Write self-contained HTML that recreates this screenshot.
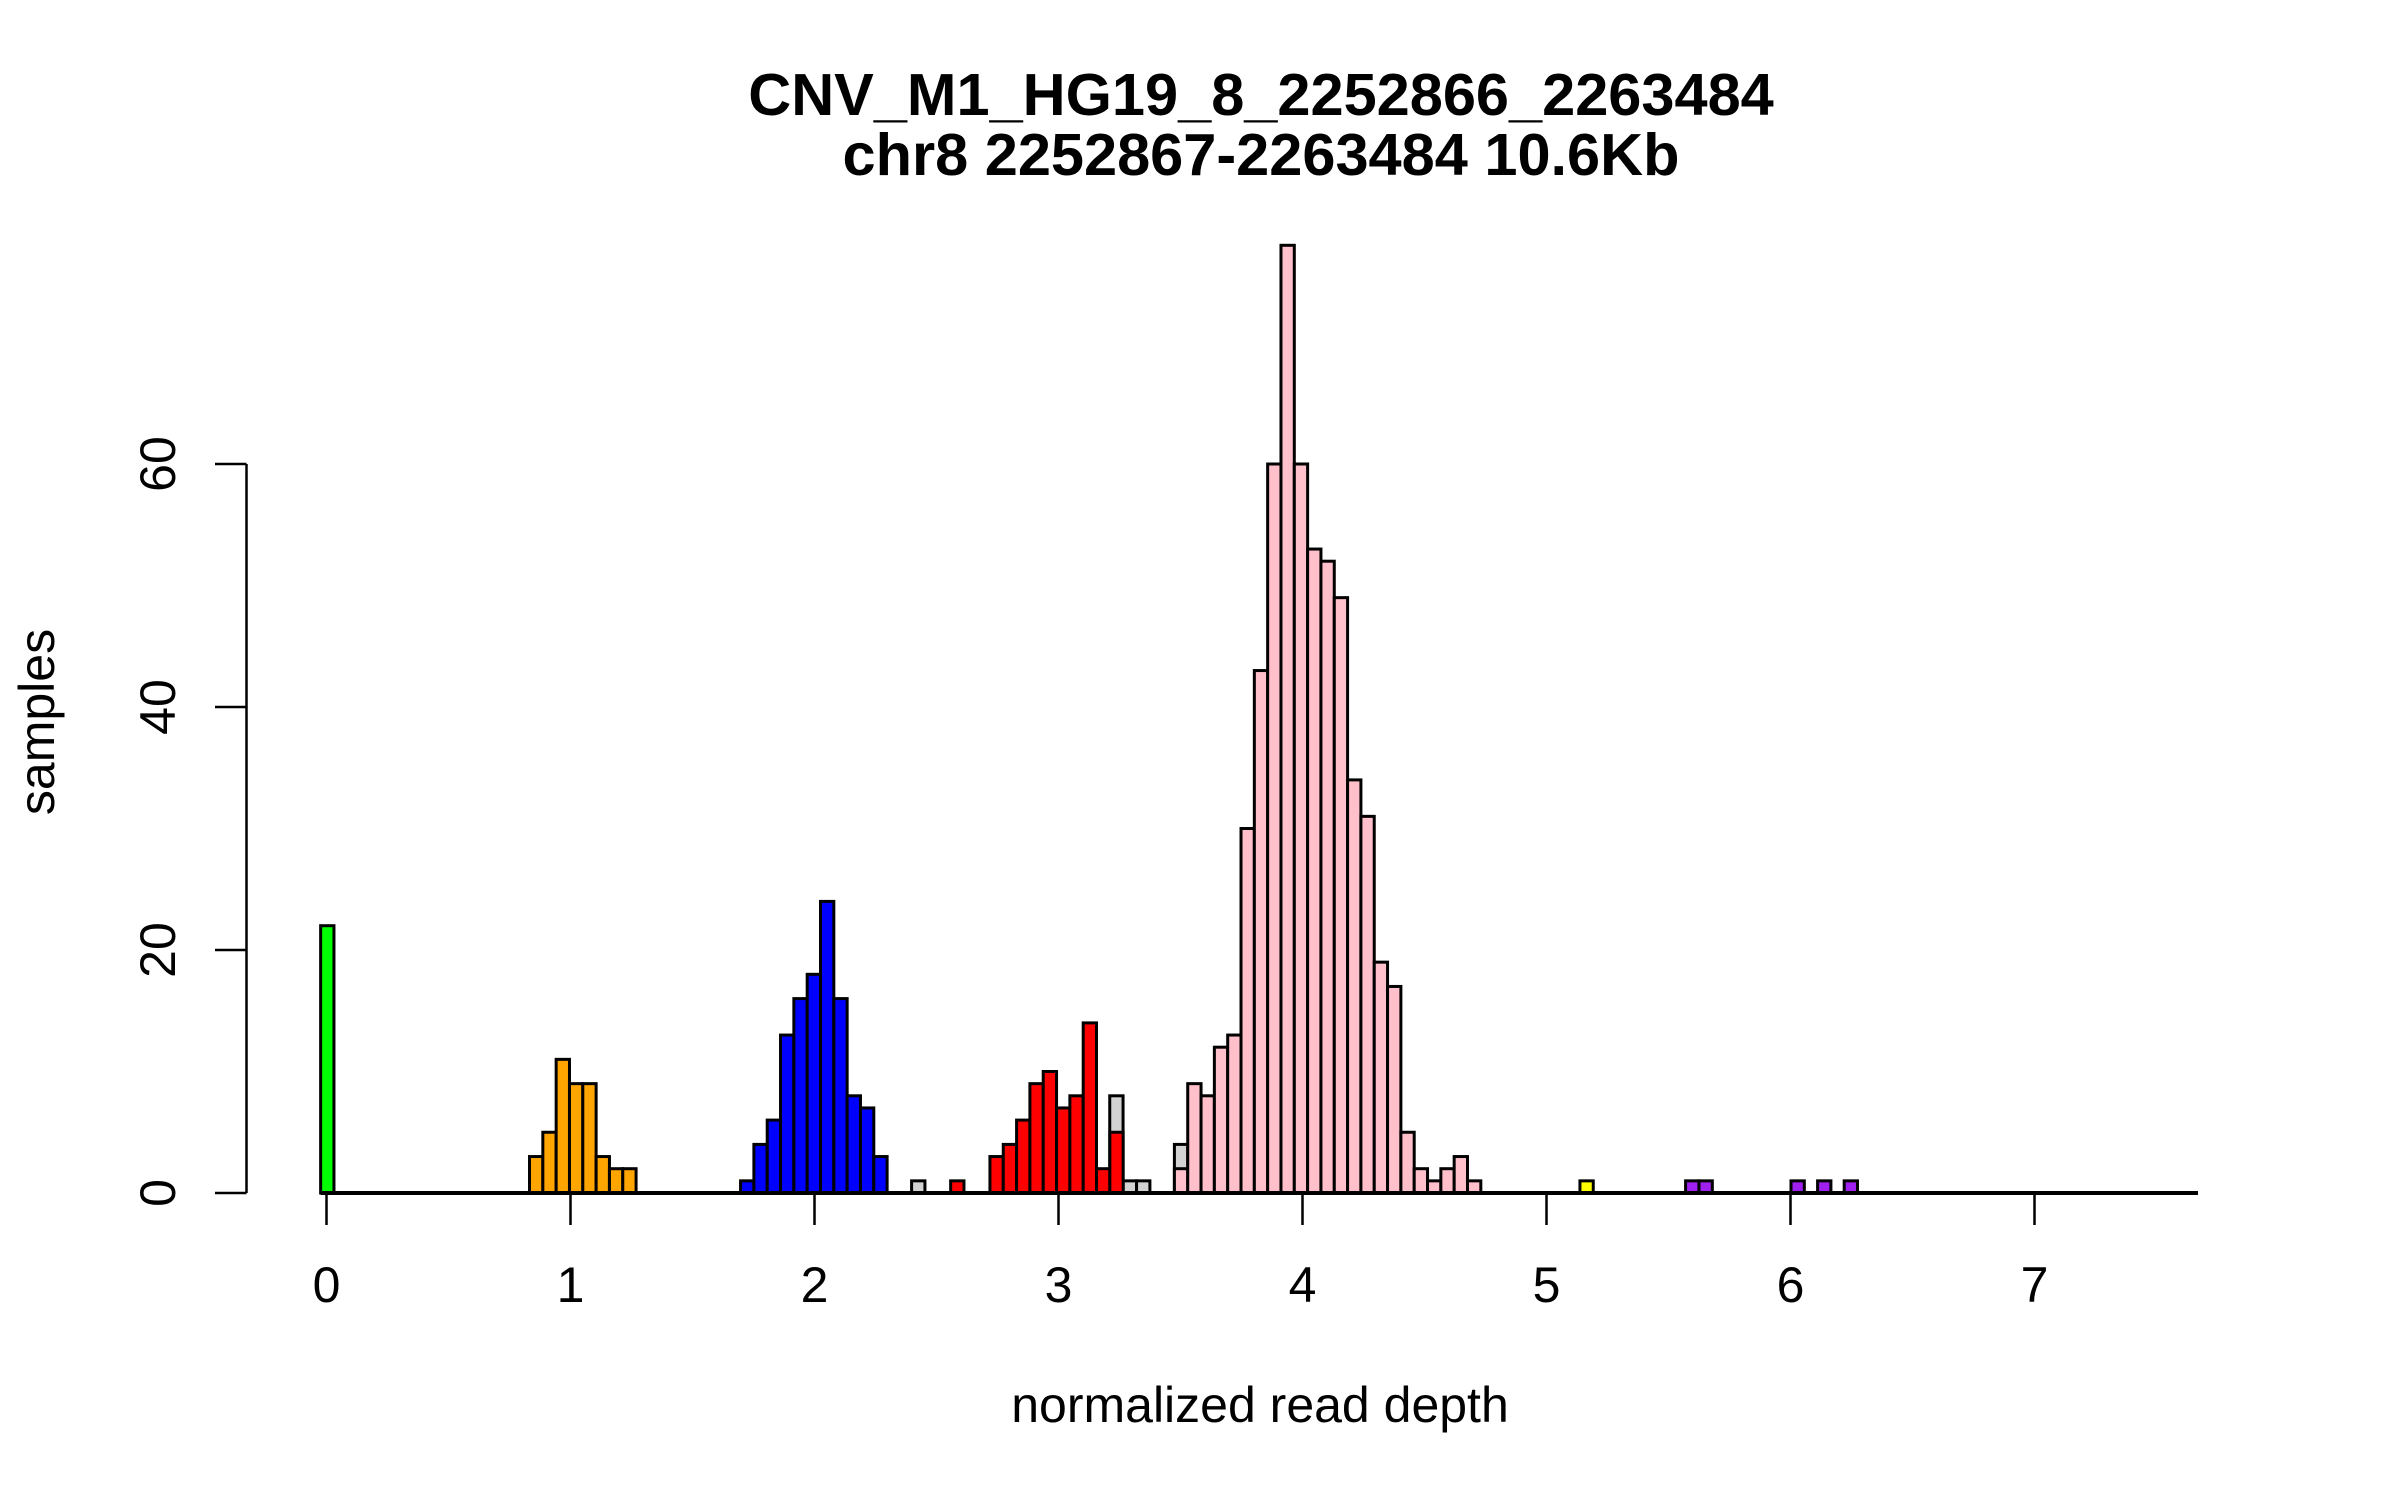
<!DOCTYPE html>
<html><head><meta charset="utf-8"><style>
html,body{margin:0;padding:0;background:#fff;}
svg{display:block;}
text{font-family:"Liberation Sans",Arial,sans-serif;fill:#000;}
</style></head>
<body>
<svg id="chart" width="2400" height="1500" viewBox="0 0 2400 1500" xmlns="http://www.w3.org/2000/svg">
<rect x="0" y="0" width="2400" height="1500" fill="#fff"/>
<text x="1261" y="115" font-size="59.5" font-weight="bold" text-anchor="middle">CNV_M1_HG19_8_2252866_2263484</text>
<text x="1261" y="175" font-size="59.5" font-weight="bold" text-anchor="middle">chr8 2252867-2263484 10.6Kb</text>
<text x="1260" y="1422" font-size="50" text-anchor="middle">normalized read depth</text>
<text x="0" y="0" font-size="50" text-anchor="middle" transform="translate(54,722) rotate(-90)">samples</text>
<g id="bars"></g>
<g id="axes"></g>
</svg>
<script>
// Series: left edge of first bin (data units) and consecutive bin counts
const binWidth = 0.0546;
const greyStarts = [2.398, 3.210, 3.265, 3.320, 3.475];
const greyCounts = [1, 8, 1, 1, 4];
const greenStart = -0.024;
const greenCounts = [22];
const orangeStart = 0.832;
const orangeCounts = [3, 5, 11, 9, 9, 3, 2, 2];
const blueStart = 1.697;
const blueCounts = [1, 4, 6, 13, 16, 18, 24, 16, 8, 7, 3];
const redSingleStart = 2.558;
const redSingleCounts = [1];
const redStart = 2.719;
const redCounts = [3, 4, 6, 9, 10, 7, 8, 14, 2, 5];
const pinkStart = 3.475;
const pinkCounts = [2, 9, 8, 12, 13, 30, 43, 60, 78, 60, 53, 52, 49, 34, 31, 19, 17, 5, 2, 1, 2, 3, 1];
const yellowStarts = [5.137];
const yellowCounts = [1];
const purpleStarts = [5.570, 5.625, 6.002, 6.111, 6.220];
const purpleCounts = [1, 1, 1, 1, 1];
const xTicks = [0, 1, 2, 3, 4, 5, 6, 7];
const yTicks = [0, 20, 40, 60];
const xMin = -0.024, xMax = 7.67;

const NS = "http://www.w3.org/2000/svg";
function xs(v){ return 326.5 + 244 * v; }
function ys(v){ return 1193 - 12.15 * v; }
const barsG = document.getElementById('bars');
const axesG = document.getElementById('axes');

function mk(tag, attrs, parent){
  const e = document.createElementNS(NS, tag);
  for (const k in attrs) e.setAttribute(k, attrs[k]);
  parent.appendChild(e);
  return e;
}

const base = mk('line', {x1: xs(xMin), x2: xs(xMax), y1: ys(0), y2: ys(0), stroke: '#000', 'stroke-width': 4}, axesG);



function drawBar(start, count, color, name){
  const x0 = xs(start), x1 = xs(start + binWidth);
  const r = mk('rect', {x: x0, y: ys(count), width: x1 - x0, height: ys(0) - ys(count), fill: color, stroke: '#000', 'stroke-width': 3}, barsG);
  
  
}
function drawRun(start, counts, color, name){
  counts.forEach((c, i) => drawBar(start + i * binWidth, c, color, name));
}
function drawList(starts, counts, color, name){
  starts.forEach((s, i) => drawBar(s, counts[i], color, name));
}

drawList(greyStarts, greyCounts, '#d3d3d3', 'bar-grey');
drawRun(greenStart, greenCounts, '#00ff00', 'bar-green');
drawRun(orangeStart, orangeCounts, '#ffa500', 'bar-orange');
drawRun(blueStart, blueCounts, '#0000ff', 'bar-blue');
drawRun(redSingleStart, redSingleCounts, '#ff0000', 'bar-red');
drawRun(redStart, redCounts, '#ff0000', 'bar-red');
drawRun(pinkStart, pinkCounts, '#ffc0cb', 'bar-pink');
drawList(yellowStarts, yellowCounts, '#ffff00', 'bar-yellow');
drawList(purpleStarts, purpleCounts, '#a020f0', 'bar-purple');

xTicks.forEach(t => {
  const l = mk('line', {x1: xs(t), x2: xs(t), y1: ys(0), y2: ys(0) + 32, stroke: '#000', 'stroke-width': 2.5}, axesG);
  
  
  const tx = mk('text', {x: xs(t), y: 1302, 'font-size': 50, 'text-anchor': 'middle'}, axesG);
  
  
  tx.textContent = String(t);
});

const yl = mk('line', {x1: 246.5, x2: 246.5, y1: ys(yTicks[0]), y2: ys(yTicks[yTicks.length - 1]), stroke: '#000', 'stroke-width': 2.5}, axesG);


yTicks.forEach(t => {
  const l = mk('line', {x1: 215, x2: 246.5, y1: ys(t), y2: ys(t), stroke: '#000', 'stroke-width': 2.5}, axesG);
  
  
  const tx = mk('text', {x: 0, y: 0, 'font-size': 50, 'text-anchor': 'middle', transform: 'translate(175,' + ys(t) + ') rotate(-90)'}, axesG);
  
  
  tx.textContent = String(t);
});
</script>
</body></html>
